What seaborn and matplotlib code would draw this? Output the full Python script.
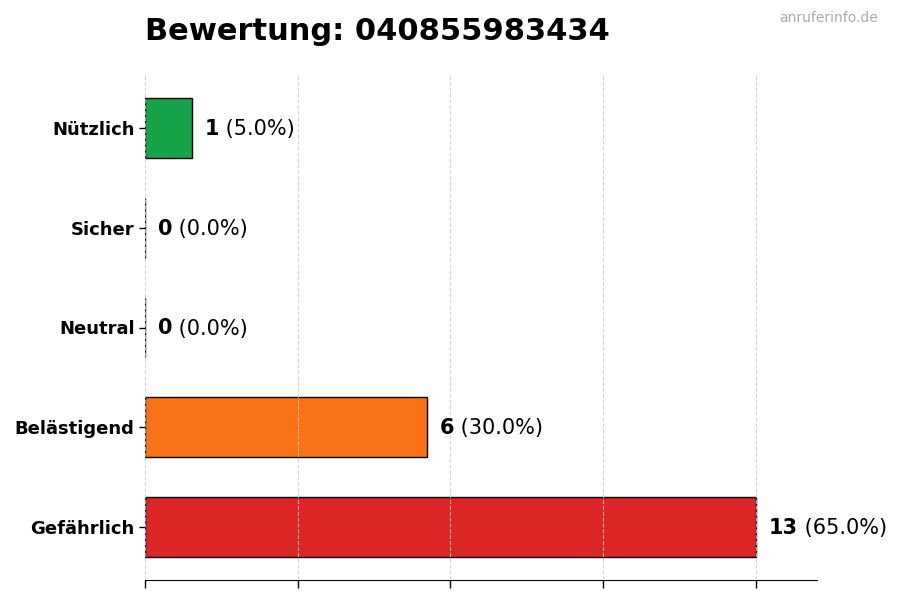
import matplotlib
matplotlib.use("Agg")
import matplotlib.pyplot as plt
import seaborn as sns
import pandas as pd
import numpy as np

categories = ["Nützlich", "Sicher", "Neutral", "Belästigend", "Gefährlich"]
counts = [1, 0, 0, 6, 13]
colors = ["#16a34a", "#6b7280", "#6b7280", "#f97316", "#dc2626"]
title = "Bewertung: 040855983434"
watermark = "anruferinfo.de"

total = sum(counts)
df = pd.DataFrame({"cat": categories, "n": counts})

sns.set_style("white")
plt.rcParams["font.family"] = ["DejaVu Sans"]
plt.rcParams["text.color"] = "black"
plt.rcParams["axes.labelcolor"] = "black"
plt.rcParams["xtick.color"] = "black"
plt.rcParams["ytick.color"] = "black"

fig = plt.figure(figsize=(9, 6), dpi=100)
ax = fig.add_axes([145/900, 20/600, 672/900, 505/600])

sns.barplot(data=df, x="n", y="cat", hue="cat", palette=colors, legend=False,
            orient="h", width=0.6, edgecolor="black", linewidth=1, ax=ax, saturation=1)

vmax = max(counts)
ax.set_xlim(0, vmax * 1.1)
ax.set_ylim(len(categories) - 0.47, -0.53)
ax.set_xticks(np.linspace(0, vmax, 5))
ax.set_xticklabels([])
ax.tick_params(axis="x", bottom=True, length=6, width=1, color="black")
ax.tick_params(axis="y", left=True, length=4, width=1, color="black", labelsize=13,
               labelcolor="black")
for lab in ax.get_yticklabels():
    lab.set_fontweight("bold")
ax.set_xlabel("")
ax.set_ylabel("")

ax.set_axisbelow(False)
ax.grid(axis="x", linestyle="--", color="#cccccc", linewidth=0.8, alpha=0.8)
ax.grid(axis="y", visible=False)

for s in ["top", "right", "left"]:
    ax.spines[s].set_visible(False)
ax.spines["bottom"].set_color("black")

for i, (c, n) in enumerate(zip(categories, counts)):
    pct = n / total * 100
    t = ax.annotate(f"{n}", xy=(n, i), xytext=(13, -1), textcoords="offset pixels",
                    va="center", ha="left", fontsize=15, fontweight="bold", color="black")
    ax.annotate(f" ({pct:.1f}%)", xycoords=t, xy=(1, 0.5), va="center", ha="left",
                fontsize=15, color="black")

fig.text(145/900, 1 - 31.5/600, title, fontsize=22, fontweight="bold", va="center", ha="left",
         color="black")
fig.text(878/900, 1 - 18/600, watermark, fontsize=10, color="#aaaaaa", va="center", ha="right")

fig.savefig("out.png", dpi=100)
